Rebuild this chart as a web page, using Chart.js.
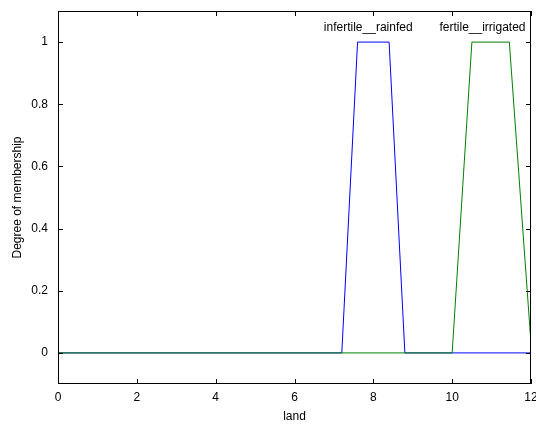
<!DOCTYPE html>
<html>
<head>
<meta charset="utf-8">
<script src="https://cdn.jsdelivr.net/npm/chart.js@4.4.1/dist/chart.umd.min.js"></script>
<style>
  html, body { margin: 0; padding: 0; background: #fff; }
  #wrap { width: 536px; height: 424px; }
</style>
</head>
<body>
<div id="wrap"><canvas id="mfChart" width="536" height="424"></canvas></div>
<script>
// membership functions (x = land, y = degree)
const rainfedX = [0, 7.2, 7.6, 8.4, 8.8, 12];
const rainfedY = [0, 0, 1, 1, 0, 0];
const irrigatedX = [0, 10, 10.5, 11.45, 12];
const irrigatedY = [0, 0, 1, 1, 0.03];

const mfNames = ['infertile__rainfed', 'fertile__irrigated'];
const mfLabelX = [7.87, 10.77];

const xTicks = [0, 2, 4, 6, 8, 10, 12];
const yTicks = [0, 0.2, 0.4, 0.6, 0.8, 1];

const toPoints = (xs, ys) => xs.map((x, i) => ({ x: x, y: ys[i] }));
const FONT = 'Liberation Sans, Arial, sans-serif';

// box, inward ticks and the MF names, the way MATLAB draws them
const matlabAxes = {
  id: 'matlabAxes',
  afterDraw(chart) {
    const { ctx, chartArea: a, scales } = chart;
    ctx.save();
    ctx.strokeStyle = '#000';
    ctx.lineWidth = 1;
    ctx.strokeRect(a.left + 0.5, a.top + 0.5, a.right - a.left - 1, a.bottom - a.top - 1);
    ctx.beginPath();
    xTicks.forEach(v => {
      const px = Math.round(scales.x.getPixelForValue(v)) + 0.5;
      ctx.moveTo(px, a.bottom); ctx.lineTo(px, a.bottom - 5);
      ctx.moveTo(px, a.top); ctx.lineTo(px, a.top + 5);
    });
    yTicks.forEach(v => {
      const py = Math.round(scales.y.getPixelForValue(v)) + 0.5;
      ctx.moveTo(a.left, py); ctx.lineTo(a.left + 5, py);
      ctx.moveTo(a.right, py); ctx.lineTo(a.right - 5, py);
    });
    ctx.stroke();
    ctx.fillStyle = '#000';
    ctx.font = '12px ' + FONT;
    ctx.textAlign = 'center';
    ctx.textBaseline = 'alphabetic';
    mfNames.forEach((name, i) => {
      ctx.fillText(name, scales.x.getPixelForValue(mfLabelX[i]), scales.y.getPixelForValue(1.035));
    });
    ctx.restore();
  }
};

new Chart(document.getElementById('mfChart'), {
  type: 'scatter',
  data: {
    datasets: [
      {
        label: mfNames[0],
        data: toPoints(rainfedX, rainfedY),
        showLine: true,
        borderColor: '#0000ff',
        borderWidth: 1,
        pointRadius: 0,
        tension: 0,
        order: 1
      },
      {
        label: mfNames[1],
        data: toPoints(irrigatedX, irrigatedY),
        showLine: true,
        borderColor: '#008000',
        borderWidth: 1,
        pointRadius: 0,
        tension: 0,
        order: 0
      }
    ]
  },
  options: {
    responsive: false,
    animation: false,
    layout: { padding: { left: 0, right: 5, top: 11, bottom: 0 } },
    plugins: {
      legend: { display: false },
      tooltip: { enabled: false }
    },
    scales: {
      x: {
        type: 'linear',
        min: 0,
        max: 12,
        afterBuildTicks: s => { s.ticks = xTicks.map(v => ({ value: v })); },
        afterFit: s => { s.height = 40; s.paddingLeft = 0; s.paddingRight = 0; },
        grid: { drawOnChartArea: false, drawTicks: false },
        border: { display: false },
        ticks: { color: '#000', font: { family: FONT, size: 12 }, padding: 6 },
        title: { display: true, text: 'land', color: '#000', font: { family: FONT, size: 12 }, padding: 0 }
      },
      y: {
        type: 'linear',
        min: -0.1,
        max: 1.1,
        afterBuildTicks: s => { s.ticks = yTicks.map(v => ({ value: v })); },
        afterFit: s => { s.width = 58; s.paddingTop = 0; s.paddingBottom = 0; },
        grid: { drawOnChartArea: false, drawTicks: false },
        border: { display: false },
        ticks: {
          color: '#000',
          font: { family: FONT, size: 12 },
          padding: 10,
          callback: v => String(Math.round(v * 10) / 10)
        },
        title: { display: true, text: 'Degree of membership', color: '#000', font: { family: FONT, size: 12 }, padding: { top: 10, bottom: 0 } }
      }
    }
  },
  plugins: [matlabAxes]
});
</script>
</body>
</html>
